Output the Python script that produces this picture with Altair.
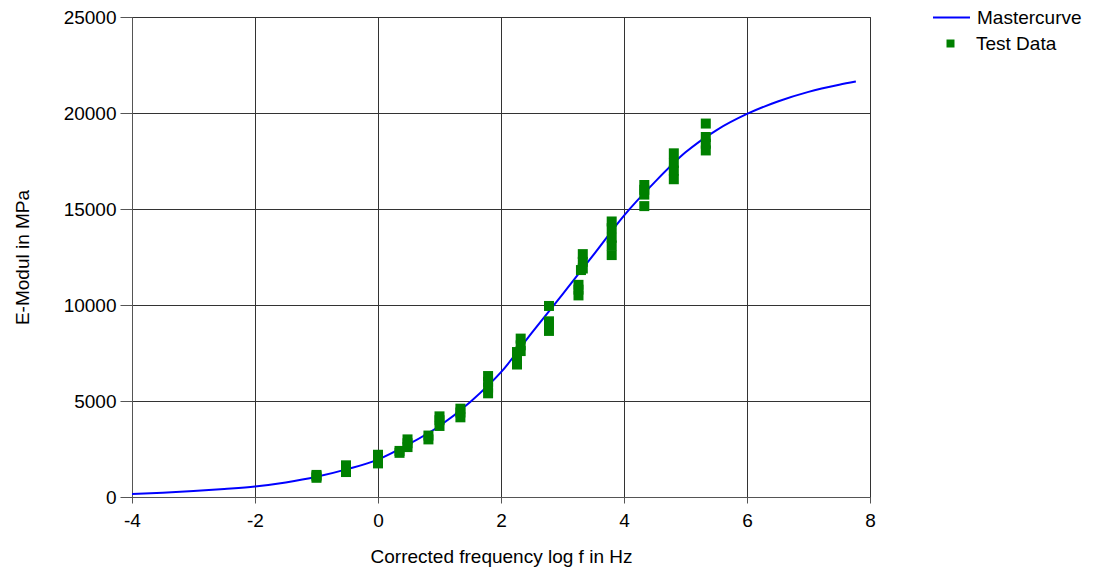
import altair as alt
import pandas as pd

# Master curve
curve_x = [-4.0, -3.5, -3.0, -2.5, -2.0, -1.5, -1.0, -0.5, 0.0, 0.5, 1.0, 1.5, 2.0,
           2.5, 3.0, 3.5, 4.0, 4.5, 5.0, 5.5, 6.0, 6.5, 7.0, 7.5, 7.77]
curve_y = [150, 220, 310, 420, 550, 760, 1050, 1450, 1950, 2750, 3700, 4950, 6500,
           8550, 10550, 12600, 14660, 16400, 17950, 19100, 19950, 20600, 21100, 21470, 21640]

# Test data
test_x = [-1.0, -1.0, -1.0,
          -0.52, -0.52, -0.52,
          0.0, 0.0, 0.0,
          0.35, 0.35,
          0.48, 0.48, 0.48,
          0.82, 0.82,
          1.0, 1.0, 1.0,
          1.34, 1.34, 1.34,
          1.79, 1.79, 1.79, 1.79,
          2.26, 2.26, 2.26,
          2.32, 2.32, 2.32,
          2.78, 2.78, 2.78, 2.78,
          3.26, 3.26, 3.26,
          3.30,
          3.33, 3.33, 3.33,
          3.80, 3.80, 3.80, 3.80, 3.80,
          4.33, 4.33, 4.33, 4.33,
          4.81, 4.81, 4.81, 4.81,
          5.33, 5.33, 5.33, 5.33]
test_y = [1000, 1080, 1150,
          1300, 1450, 1650,
          1750, 1950, 2200,
          2300, 2400,
          2600, 2800, 3000,
          3000, 3200,
          3700, 4000, 4200,
          4150, 4400, 4600,
          5400, 5700, 6000, 6300,
          6900, 7200, 7550,
          7600, 7900, 8250,
          8650, 9000, 9150, 9950,
          10500, 10800, 11050,
          11820,
          11900, 12250, 12650,
          12600, 13100, 13500, 14000, 14350,
          15150, 15750, 16000, 16250,
          16550, 17000, 17400, 17900,
          18050, 18400, 18750, 19450]

x_ticks = [-4, -2, 0, 2, 4, 6, 8]
y_ticks = [0, 5000, 10000, 15000, 20000, 25000]

FONT = "Liberation Sans"
FS = 19

curve_df = pd.DataFrame({"x": curve_x, "y": curve_y, "series": "Mastercurve"})
test_df = pd.DataFrame({"x": test_x, "y": test_y, "series": "Test Data"})

x_enc = alt.X("x:Q", scale=alt.Scale(domain=[-4, 8], nice=False, zero=False),
              axis=alt.Axis(values=x_ticks, title="Corrected frequency log f in Hz",
                            labelExpr="'' + datum.value",
                            tickSize=6, labelPadding=8, titlePadding=17))
y_enc = alt.Y("y:Q", scale=alt.Scale(domain=[0, 25000], nice=False),
              axis=alt.Axis(values=y_ticks, title="E-Modul in MPa",
                            labelExpr="'' + datum.value",
                            tickSize=12, labelPadding=4, titlePadding=31))

line = alt.Chart(curve_df).mark_line(strokeWidth=2, interpolate="monotone").encode(
    x=x_enc, y=y_enc,
    color=alt.Color("series:N",
                    scale=alt.Scale(domain=["Mastercurve"], range=["#0000ff"]),
                    legend=alt.Legend(title=None, orient="none", legendX=800, legendY=-19,
                                      symbolType="stroke", symbolSize=1369,
                                      symbolStrokeWidth=2, labelOffset=6, padding=0)),
)

points = alt.Chart(test_df).mark_square(size=100, opacity=1).encode(
    x="x:Q", y="y:Q",
    fill=alt.Fill("series:N",
                  scale=alt.Scale(domain=["Test Data"], range=["#008000"]),
                  legend=alt.Legend(title=None, orient="none", legendX=809, legendY=17,
                                    symbolType="square", symbolSize=64,
                                    symbolStrokeWidth=0, labelOffset=16, padding=0)),
)

chart = alt.layer(line, points).properties(
    width=738, height=480,
    autosize=alt.AutoSizeParams(type="none"),
    padding={"left": 124, "top": 9, "right": 216, "bottom": 76},
).configure(
    font=FONT,
).configure_view(
    stroke="#555", strokeWidth=1,
).configure_axis(
    grid=True, gridColor="#333", gridOpacity=1, gridWidth=1,
    domainColor="#555", tickColor="#555", domainWidth=1, tickWidth=1,
    labelFont=FONT, labelFontSize=FS, labelColor="#000",
    titleFont=FONT, titleFontSize=FS, titleColor="#000", titleFontWeight="normal",
    labelFlush=False, labelOverlap=False,
).configure_legend(
    labelFont=FONT, labelFontSize=FS, labelColor="#000",
)

chart.save("out.html", embed_options={"renderer": "svg", "actions": False})
